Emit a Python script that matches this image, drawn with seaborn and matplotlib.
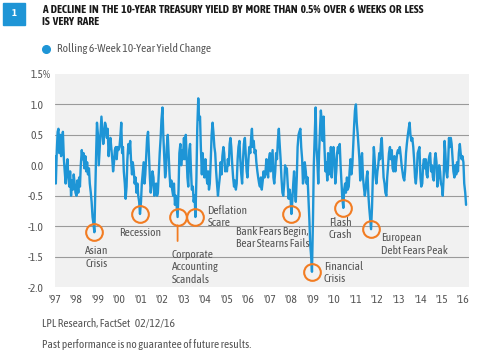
import pandas as pd
import matplotlib
matplotlib.use('Agg')
import matplotlib.pyplot as plt
import matplotlib.font_manager as fm
from matplotlib.patches import Rectangle
import seaborn as sns

# rolling 6-week change of the 10-year yield, read twice a month off the chart
y1997 = [0.15, -0.3, 0.25, 0.55, 0.6, 0.2, 0.5, 0.15, 0.4, 0.55, 0.1, -0.1,
         -0.3, -0.05, 0.1, -0.2, -0.35, -0.1, -0.5, -0.25, -0.4, -0.15, -0.3, -0.45]
y1998 = [-0.5, -0.25, -0.45, -0.2, -0.35, 0.0, 0.25, 0.1, 0.2, -0.05, 0.15, -0.1,
         0.05, -0.15, -0.05, -0.3, -0.45, -0.6, -0.85, -0.95, -1.1, -0.5, 0.2, 0.7]
y1999 = [0.5, 0.0, 0.3, 0.55, 0.8, 0.6, 0.35, 0.5, 0.7, 0.65, 0.45, 0.6,
         0.15, 0.35, 0.45, 0.3, 0.1, -0.1, 0.05, 0.25, 0.3, 0.1, 0.3, 0.25]
y2000 = [0.3, 0.45, 0.7, 0.2, 0.3, -0.1, -0.3, -0.55, -0.35, 0.1, 0.35, 0.2,
         0.4, 0.1, -0.15, 0.05, -0.1, -0.3, -0.2, -0.45, -0.3, -0.5, -0.6, -0.8]
y2001 = [-0.6, -0.3, -0.1, 0.05, -0.3, -0.15, 0.2, 0.45, 0.55, 0.2, -0.2, -0.45,
         -0.3, -0.1, -0.2, -0.5, -0.35, -0.3, -0.5, -0.45, -0.1, 0.2, 0.45, 0.75]
y2002 = [0.95, 0.5, 0.1, -0.2, -0.1, 0.3, 0.5, 0.2, -0.15, -0.35, -0.25, -0.4,
         -0.5, -0.3, -0.65, -0.5, -0.7, -0.85, -0.4, 0.2, 0.35, 0.0, 0.25, 0.1]
y2003 = [0.45, 0.1, 0.5, 0.15, -0.2, -0.35, 0.25, 0.35, -0.1, -0.4, -0.35, -0.6,
         -0.5, -0.85, -0.2, 0.6, 1.1, 0.75, 0.8, 0.3, -0.15, 0.2, -0.1, -0.2]
y2004 = [0.1, -0.15, -0.3, -0.1, -0.4, -0.3, 0.1, 0.5, 0.7, 0.55, 0.3, 0.2,
         -0.1, -0.3, -0.5, -0.35, -0.2, 0.05, -0.15, 0.15, 0.3, 0.2, -0.1, -0.05]
y2005 = [-0.1, 0.1, 0.0, 0.35, 0.45, 0.3, 0.0, -0.2, -0.35, -0.25, -0.4, -0.3,
         0.1, 0.3, 0.4, 0.1, -0.15, -0.3, 0.1, 0.35, 0.45, 0.2, -0.1, -0.2]
y2006 = [0.1, 0.3, 0.2, 0.45, 0.6, 0.3, 0.4, 0.2, 0.25, 0.05, -0.1, -0.2,
         -0.3, -0.35, -0.2, -0.4, -0.25, -0.1, -0.2, -0.15, 0.1, -0.1, -0.2, 0.1]
y2007 = [0.2, -0.1, 0.1, 0.25, -0.2, -0.3, -0.1, 0.2, 0.1, 0.4, 0.6, 0.35,
         0.1, -0.2, -0.45, -0.5, -0.3, 0.0, -0.1, -0.05, -0.35, -0.55, -0.4, -0.5]
y2008 = [-0.8, -0.6, -0.3, -0.1, -0.4, -0.6, -0.2, 0.3, 0.5, 0.55, 0.6, 0.3,
         0.1, -0.3, -0.2, 0.05, -0.1, -0.3, -0.2, -0.5, -0.9, -1.3, -1.5, -1.75]
y2009 = [-0.9, 0.0, 0.5, 0.95, 0.3, 0.1, -0.3, 0.2, 0.6, 0.9, 0.7, 0.4,
         0.8, 0.3, -0.1, 0.05, -0.25, 0.2, -0.15, -0.1, 0.3, -0.2, 0.1, 0.3]
y2010 = [0.1, -0.3, -0.1, 0.2, 0.3, 0.2, 0.35, 0.0, -0.3, -0.55, -0.7, -0.4,
         -0.3, -0.45, -0.2, -0.4, -0.35, -0.1, 0.1, -0.15, 0.0, 0.3, 0.65, 0.9]
y2011 = [1.0, 0.7, 0.5, 0.3, 0.1, -0.25, 0.1, 0.2, -0.2, -0.35, -0.5, -0.4,
         -0.2, -0.1, -0.5, -0.7, -0.9, -1.05, -0.7, -0.2, 0.3, 0.1, -0.2, -0.3]
y2012 = [-0.1, 0.0, 0.2, 0.1, 0.35, 0.45, 0.1, -0.2, -0.3, -0.45, -0.5, -0.2,
         0.0, 0.2, 0.3, 0.1, 0.25, -0.05, -0.1, 0.15, -0.1, 0.05, 0.2, 0.25]
y2013 = [0.2, 0.3, 0.15, 0.0, -0.1, -0.2, -0.25, -0.1, 0.2, 0.35, 0.5, 0.6,
         0.7, 0.5, 0.4, 0.45, 0.3, 0.1, -0.2, -0.3, -0.1, 0.2, 0.25, 0.3]
y2014 = [-0.2, -0.35, -0.3, 0.0, 0.1, -0.05, 0.1, -0.15, -0.2, 0.05, 0.15, 0.2,
         -0.1, 0.0, -0.2, -0.25, 0.1, 0.2, 0.05, -0.35, -0.2, 0.0, -0.1, -0.3]
y2015 = [-0.35, -0.5, -0.15, 0.4, 0.2, -0.1, -0.2, 0.0, 0.45, 0.3, 0.45, 0.35,
         0.1, -0.1, -0.2, 0.0, -0.15, 0.05, -0.1, 0.2, 0.35, 0.2, 0.1, 0.15]
y2016 = [0.05, -0.3, -0.45, -0.65]

years = [y1997, y1998, y1999, y2000, y2001, y2002, y2003, y2004, y2005, y2006,
         y2007, y2008, y2009, y2010, y2011, y2012, y2013, y2014, y2015, y2016]
values = [v for yr in years for v in yr]
dates = pd.date_range('1997-01-01', periods=len(values), freq='SMS')
df = pd.DataFrame({'date': dates, 'change': values})

# labelled events: label, rough date, text offset (px), alignment
events = [
    ('Asian\nCrisis', '1998-11-01', (2, -13), 'center', 'top'),
    ('Recession', '2000-12-15', (0, -13), 'center', 'top'),
    ('Corporate\nAccounting\nScandals', '2002-09-01', (-6, -32), 'left', 'top'),
    ('Deflation\nScare', '2003-07-15', (12, 12), 'left', 'top'),
    ('Bank Fears Begin,\nBear Stearns Fails', '2008-01-01', (-55, -12), 'left', 'top'),
    ('Financial\nCrisis', '2008-12-15', (12, 11), 'left', 'top'),
    ('Flash\nCrash', '2010-06-01', (-3, -9), 'center', 'top'),
    ('European\nDebt Fears Peak', '2011-09-15', (10, -3), 'left', 'top'),
]

BLUE = '#1e95d6'
ORANGE = '#f27c22'
GREY = '#555555'

sns.set_theme(style='white')
# narrow faces that are installed, with the weights each one has
weights = {}
for f in fm.fontManager.ttflist:
    if 'Narrow' in f.name or 'Condensed' in f.name:
        w = f.weight if isinstance(f.weight, int) else fm.weight_dict.get(f.weight, 400)
        weights.setdefault(f.name, set()).add(w)
fam = 'Liberation Sans'
for name, ws in weights.items():
    if any(390 <= w <= 500 for w in ws):
        fam = name
        if any(w >= 700 for w in ws):
            break
bold_fam = fam if any(w >= 700 for w in weights.get(fam, {700})) else 'Liberation Sans'
plt.rcParams['font.family'] = [fam, 'DejaVu Sans']

fig = plt.figure(figsize=(4.84, 3.56), dpi=100)
W, H = 484, 356
rend = fig.canvas.get_renderer()


def fit(t, width, cap=None):
    w = t.get_window_extent(renderer=rend).width
    size = t.get_fontsize() * width / w
    if cap is not None:
        size = min(size, cap)
    t.set_fontsize(size)
    return size


ax = fig.add_axes([55 / W, 1 - 287 / H, 414 / W, 213 / H])
ax.set_facecolor('#f1f1f1')
for s in ax.spines.values():
    s.set_visible(False)

for g in [-1.5, -1.0, -0.5, 0.0, 0.5, 1.0]:
    ax.axhline(g, color='#9a9a9a', lw=0.8, zorder=1)

sns.lineplot(data=df, x='date', y='change', ax=ax, color=BLUE, lw=1.7, zorder=3)

ax.set_xlim(pd.Timestamp('1997-01-01'), pd.Timestamp('2016-04-05'))
ax.set_ylim(-2.0, 1.5)
ax.set_xlabel('')
ax.set_ylabel('')

# header
fig.patches.append(Rectangle((3 / W, 1 - 25 / H), 22 / W, 22 / H,
                             transform=fig.transFigure, color=BLUE))
fig.text(14 / W, 1 - 14 / H, '1', ha='center', va='center', color='white',
         fontsize=7.5, fontweight='bold', family=[bold_fam, 'DejaVu Sans'])
title1 = 'A DECLINE IN THE 10-YEAR TREASURY YIELD BY MORE THAN 0.5% OVER 6 WEEKS OR LESS'
t1 = fig.text(42 / W, 1 - 9.5 / H, title1.replace(' ', '  '),
              ha='left', va='center', fontsize=7.6, fontweight='bold', color='#1a1a1a',
              family=[bold_fam, 'DejaVu Sans'])
ts = fit(t1, 436, cap=8.2)
fig.text(42 / W, 1 - 21.5 / H, 'IS  VERY  RARE', ha='left', va='center',
         fontsize=ts, fontweight='bold', color='#1a1a1a', family=[bold_fam, 'DejaVu Sans'])

fig.lines.append(plt.Line2D([46 / W], [1 - 49 / H], marker='o', ms=5.5,
                            color=BLUE, transform=fig.transFigure))
leg = fig.text(57 / W, 1 - 49 / H, 'Rolling 6-Week 10-Year Yield Change', ha='left',
               va='center', fontsize=7.5, color=GREY)
fs = fit(leg, 165, cap=8.2)

# footer
f1 = fig.text(42 / W, 1 - 323 / H, 'LPL Research, FactSet   02/12/16', ha='left',
              va='center', fontsize=fs, color=GREY)
fit(f1, 138, cap=8.2)
f2 = fig.text(42 / W, 1 - 344 / H, 'Past performance is no guarantee of future results.',
              ha='left', va='center', fontsize=fs, color=GREY)
fit(f2, 211, cap=8.2)

yt = [-2.0, -1.5, -1.0, -0.5, 0.0, 0.5, 1.0, 1.5]
ax.set_yticks(yt)
ax.set_yticklabels(['%.1f' % v for v in yt])
xt = pd.to_datetime(['%d-01-01' % y for y in range(1997, 2017)])
ax.set_xticks(xt)
ax.set_xticklabels(["'%02d" % (y % 100) for y in range(1997, 2017)])
ax.tick_params(axis='y', length=0, pad=8.5, labelsize=fs, labelcolor=GREY)
ax.tick_params(axis='x', length=0, pad=5, labelsize=fs, labelcolor=GREY)
fig.text(42.5 / W, 1 - 74 / H, '%', ha='left', va='center', fontsize=fs, color=GREY)

for label, d, off, ha, va in events:
    c = pd.Timestamp(d)
    win = df[(df['date'] > c - pd.Timedelta(days=50)) & (df['date'] < c + pd.Timedelta(days=50))]
    row = win.loc[win['change'].idxmin()]
    ax.plot(row['date'], row['change'], marker='o', ms=12, mfc='none',
            mec=ORANGE, mew=1.5, zorder=4, clip_on=False)
    ax.annotate(label, (row['date'], row['change']),
                xytext=(off[0] * 0.72, off[1] * 0.72), textcoords='offset points',
                ha=ha, va=va, fontsize=fs, color=GREY, linespacing=1.15)
    if label.startswith('Corporate'):
        ax.annotate('', (row['date'], row['change']), xytext=(0, -24 * 0.72),
                    textcoords='offset points',
                    arrowprops=dict(arrowstyle='-', color=ORANGE, lw=1.3,
                                    shrinkA=0, shrinkB=6))

fig.savefig('out.png', dpi=100)
